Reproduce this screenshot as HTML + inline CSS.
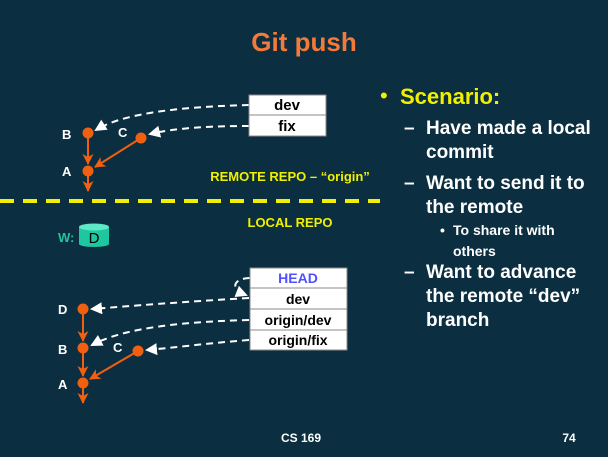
<!DOCTYPE html>
<html><head><style>
body{margin:0;width:608px;height:452px;background:#0b2e40;overflow:hidden;font-family:"Liberation Sans",Arial,sans-serif;}
</style></head><body>
<svg width="608" height="452" xmlns="http://www.w3.org/2000/svg" font-family="Liberation Sans, Arial, sans-serif">
<defs>
<marker id="wa" markerWidth="12" markerHeight="12" refX="10" refY="6" orient="auto" markerUnits="userSpaceOnUse"><path d="M0,0 L12,6 L0,12 Z" fill="#fff"/></marker>
<marker id="oa" markerWidth="11" markerHeight="11" refX="10" refY="5.5" orient="auto" markerUnits="userSpaceOnUse"><path d="M0,0 L11,5.5 L0,11 L3,5.5 Z" fill="#f06010"/></marker>
</defs>
<text x="304" y="51" text-anchor="middle" font-size="26" font-weight="bold" fill="#f47a3a">Git push</text>

<!-- top graph -->
<g stroke="#fff" stroke-width="2" stroke-dasharray="7,5" fill="none">
<path d="M249,105 C170,107 120,115 96,130" marker-end="url(#wa)"/>
<path d="M249,126 C210,126 175,128 150,134" marker-end="url(#wa)"/>
</g>
<g stroke="#f06010" stroke-width="2" fill="none">
<line x1="88" y1="133" x2="88" y2="164" marker-end="url(#oa)"/>
<line x1="141" y1="138" x2="95" y2="167" marker-end="url(#oa)"/>
<line x1="88" y1="171" x2="88" y2="191" marker-end="url(#oa)"/>
</g>
<g fill="#f06010"><circle cx="88" cy="133" r="5.5"/><circle cx="141" cy="138" r="5.5"/><circle cx="88" cy="171" r="5.5"/></g>
<g fill="#fff" font-size="13" font-weight="bold"><text x="62" y="139">B</text><text x="118" y="137">C</text><text x="62" y="176">A</text></g>
<g stroke="#888" stroke-width="1" fill="#fff"><rect x="249" y="95" width="77" height="20"/><rect x="249" y="115" width="77" height="21"/></g>
<g font-size="15" font-weight="bold" text-anchor="middle" fill="#000"><text x="287" y="110">dev</text><text x="287" y="131">fix</text></g>
<text x="290" y="181" text-anchor="middle" font-size="13" font-weight="bold" fill="#f0f000">REMOTE REPO – “origin”</text>
<line x1="0" y1="201" x2="380" y2="201" stroke="#f0f000" stroke-width="4" stroke-dasharray="14,9"/>
<text x="290" y="227" text-anchor="middle" font-size="13" font-weight="bold" fill="#f0f000">LOCAL REPO</text>
<text x="58" y="242" font-size="13" font-weight="bold" fill="#1ec7a0">W:</text>
<path d="M79,227 L79,244 A15,3 0 0 0 109,244 L109,227" fill="#1ec7a0"/>
<ellipse cx="94" cy="227" rx="15" ry="3.5" fill="#5ee8c8"/>
<text x="94" y="243" text-anchor="middle" font-size="15" fill="#000">D</text>

<!-- bottom graph -->
<g stroke="#fff" stroke-width="2" stroke-dasharray="7,5" fill="none">
<path d="M249,298 C180,302 130,306 92,309" marker-end="url(#wa)"/>
<path d="M249,320 C170,322 120,330 92,345" marker-end="url(#wa)"/>
<path d="M249,340 C210,343 180,347 147,350" marker-end="url(#wa)"/>
<path d="M250,278 C235,278 228,288 246,295" marker-end="url(#wa)"/>
</g>
<g stroke="#f06010" stroke-width="2" fill="none">
<line x1="83" y1="309" x2="83" y2="341" marker-end="url(#oa)"/>
<line x1="83" y1="348" x2="83" y2="376" marker-end="url(#oa)"/>
<line x1="138" y1="351" x2="90" y2="379" marker-end="url(#oa)"/>
<line x1="83" y1="383" x2="83" y2="403" marker-end="url(#oa)"/>
</g>
<g fill="#f06010"><circle cx="83" cy="309" r="5.5"/><circle cx="83" cy="348" r="5.5"/><circle cx="138" cy="351" r="5.5"/><circle cx="83" cy="383" r="5.5"/></g>
<g fill="#fff" font-size="13" font-weight="bold"><text x="58" y="314">D</text><text x="58" y="354">B</text><text x="113" y="352">C</text><text x="58" y="389">A</text></g>
<g stroke="#888" stroke-width="1" fill="#fff"><rect x="250" y="268" width="97" height="20"/><rect x="250" y="288" width="97" height="21"/><rect x="250" y="309" width="97" height="21"/><rect x="250" y="330" width="97" height="20"/></g>
<g font-size="14" font-weight="bold" text-anchor="middle" fill="#000"><text x="298" y="283" fill="#5050ff">HEAD</text><text x="298" y="304">dev</text><text x="298" y="325">origin/dev</text><text x="298" y="345">origin/fix</text></g>

<!-- right text -->
<text x="380" y="103" font-size="22" fill="#f0f000">•</text>
<text x="400" y="104" font-size="22" font-weight="bold" fill="#f0f000">Scenario:</text>
<g fill="#fff" font-size="19" font-weight="bold">
<text x="404" y="134">–</text><text x="426" y="134">Have made a local</text>
<text x="426" y="158">commit</text>
<text x="404" y="189">–</text><text x="426" y="189">Want to send it to</text>
<text x="426" y="213">the remote</text>
<text x="404" y="278">–</text><text x="426" y="278">Want to advance</text>
<text x="426" y="302">the remote “dev”</text>
<text x="426" y="326">branch</text>
</g>
<g fill="#fff" font-size="14" font-weight="bold">
<text x="440" y="235">•</text><text x="453" y="235">To share it with</text>
<text x="453" y="256">others</text>
</g>
<text x="301" y="442" text-anchor="middle" font-size="12" font-weight="bold" fill="#fff">CS 169</text>
<text x="569" y="442" text-anchor="middle" font-size="12" font-weight="bold" fill="#fff">74</text>
</svg>
</body></html>
